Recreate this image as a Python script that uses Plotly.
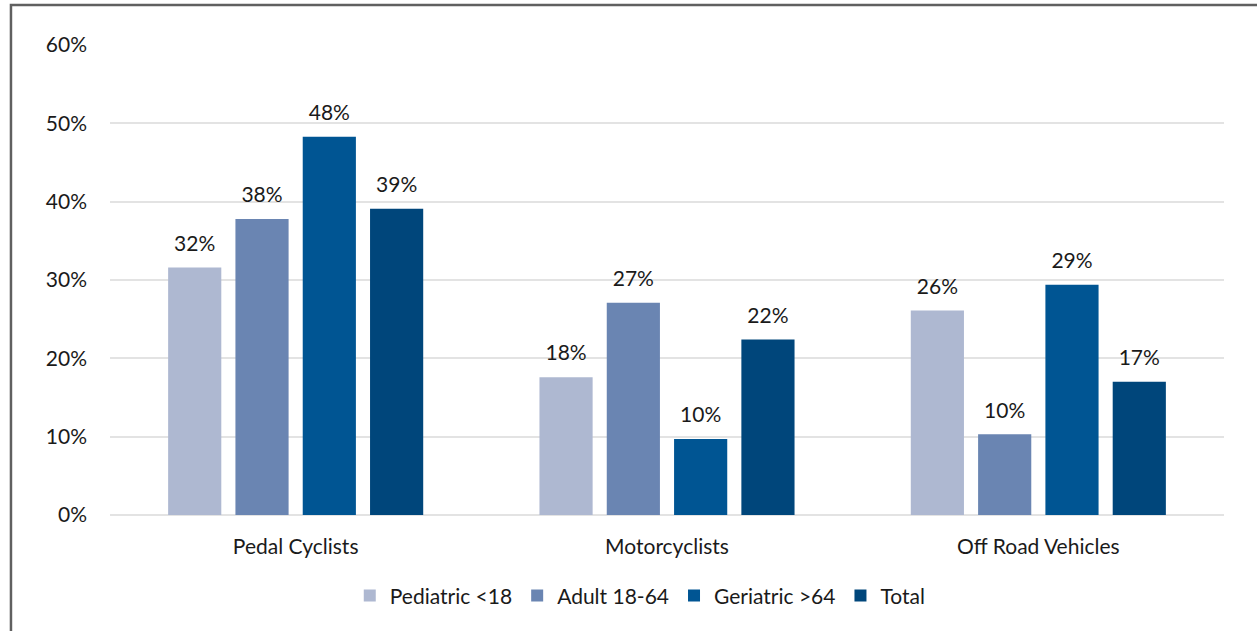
import plotly.graph_objects as go

categories = ["Pedal Cyclists", "Motorcyclists", "Off Road Vehicles"]
series_names = ["Pediatric <18", "Adult 18-64", "Geriatric >64", "Total"]
pediatric = [31.6, 17.6, 26.1]
adult = [37.8, 27.1, 10.3]
geriatric = [48.3, 9.7, 29.4]
total = [39.1, 22.4, 17.0]
colors = ["#AEB8D1", "#6A85B2", "#005593", "#00467B"]
y_ticks = [0, 10, 20, 30, 40, 50, 60]
y_tick_labels = [f"{t}%" for t in y_ticks]

FONT = "Lato, 'Open Sans', sans-serif"
FS = 21

fig = go.Figure()
for name, vals, col in zip(series_names, [pediatric, adult, geriatric, total], colors):
    fig.add_trace(go.Bar(
        x=categories, y=vals, name=name,
        marker=dict(color=col, line=dict(width=0)),
        text=vals,
        # short spacer line lifts the value label off the bar top
        texttemplate=f"<span style='font-size:{FS}px'>%{{y:.0f}}%</span><br> ",
        textposition="outside",
        textfont=dict(size=9, color="#1a1a1a", family=FONT),
        cliponaxis=False,
    ))

fig.update_layout(
    width=1257, height=631,
    margin=dict(l=110, r=33, t=45, b=116),
    paper_bgcolor="white", plot_bgcolor="white",
    barmode="group", bargap=0.275, bargroupgap=0.21,
    uniformtext=dict(minsize=0, mode=False),
    font=dict(family=FONT, size=FS, color="#1a1a1a"),
    showlegend=True,
    legend=dict(orientation="h", x=0.476, xanchor="center", y=-0.172, yanchor="middle",
                font=dict(size=FS, family=FONT, color="#1a1a1a"),
                itemwidth=30, traceorder="normal"),
    xaxis=dict(showgrid=False, showline=False, ticks="", tickfont=dict(size=FS),
               ticklabelstandoff=17),
    yaxis=dict(range=[0, 60], tickvals=y_ticks, ticktext=y_tick_labels,
               showgrid=True, gridcolor="#E3E3E3", gridwidth=1.5,
               zeroline=True, zerolinecolor="#E3E3E3", zerolinewidth=1.5,
               showline=False, ticks="", ticklabelstandoff=22, tickfont=dict(size=FS)),
    shapes=[dict(type="rect", xref="paper", yref="paper",
                 x0=-0.0889, x1=1.05, y0=-0.28, y1=1.085,
                 line=dict(color="#606060", width=2.5), fillcolor="rgba(0,0,0,0)", layer="above")],
)

fig.write_html("out.html")
